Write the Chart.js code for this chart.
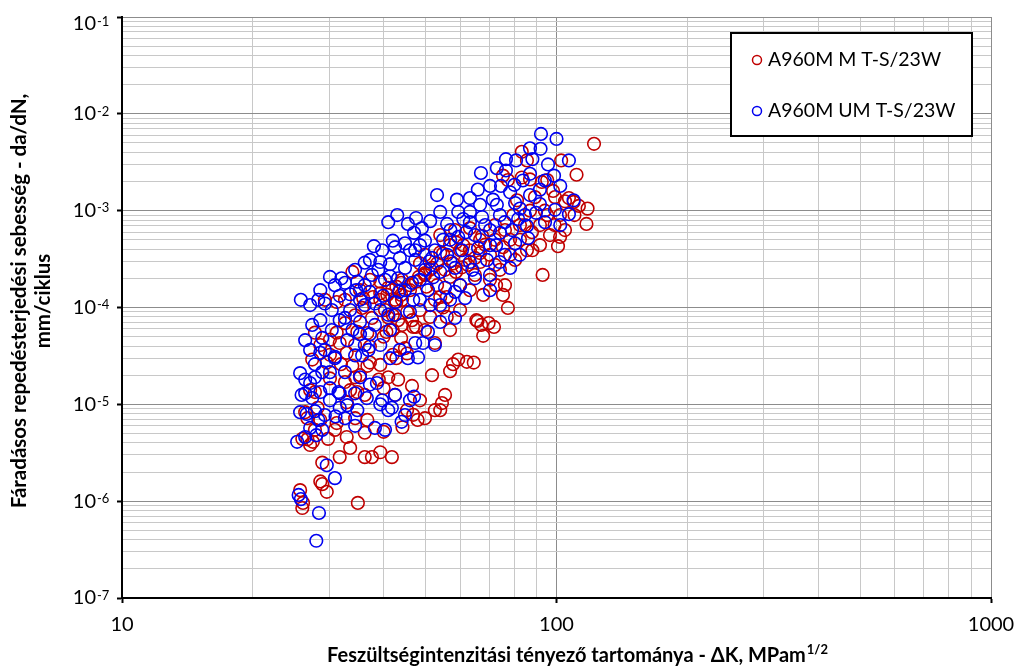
<!DOCTYPE html>
<html>
<head>
<meta charset="utf-8">
<script src="https://cdn.jsdelivr.net/npm/chart.js@4.4.1/dist/chart.umd.min.js"></script>
<style>
  body { margin: 0; background: #fff; }
  canvas { display: block; }
</style>
</head>
<body>
<canvas id="chart" width="1024" height="669"></canvas>
<script>
// A960M M T-S/23W (piros)
const mDK = [122, 83.2, 85.5, 102.5, 111.2, 92.5, 95.2, 99.2, 106.8, 109.5, 112.6, 117.9, 117.2, 101.9, 100.8, 92.9, 88, 85.5,
    77.3, 75.3, 83.2, 86.9, 89.2, 81.1, 72.6, 76.1, 75.3, 77.3, 65.8, 69.8, 71.8, 67.8, 59.4, 57.8, 56.9, 62.2, 64.5,
    55.4, 54.5, 54, 51.7, 52.5, 49.8, 47.9, 45.3, 46.8, 44.2, 41.8, 39.3, 37.6, 36.2, 34.9, 31.7, 29.6, 28.9, 28.6,
    25.7, 26.1, 26, 28.9, 27.1, 27.5, 26.7, 26, 29.8, 32.9, 36.2, 40, 36.7, 34.4, 31.2, 28.6, 26.4, 26.7, 28.2, 32.9,
    34.8, 33.5, 34.4, 35.3, 39, 41, 43.2, 39.3, 37.2, 33.9, 31.9, 29.6, 27.4, 27.1, 27.8, 42.8, 44.8, 42, 45.3, 52.5,
    32.9, 37.2, 31.7, 36.7, 40, 33.9, 39.3, 41, 44.1, 46, 47.5, 49.8, 51.2, 53.1, 54.8, 43.9, 44.1, 42.8, 39.3, 37.8,
    35.9, 35.7, 41, 42, 43.2, 46.5, 46.8, 51.2, 52.5, 54, 54.8, 55.9, 30.1, 31.2, 32.6, 31.2, 29.3, 34.8, 36.7, 40,
    43.9, 47.5, 56.9, 58.7, 60, 54, 51.7, 49.8, 48.2, 43.9, 42.8, 46, 50.2, 53.1, 56.9, 58.7, 60.6, 62.5, 64.9, 66.7,
    63.2, 61.6, 57.8, 55.9, 41.8, 40.8, 39.3, 45.3, 42, 44.1, 40.6, 65.4, 67.1, 63.2, 67.4, 72.2, 78.2, 75.3, 68.5,
    72.2, 66.7, 63.2, 67.8, 79.5, 84.6, 76.1, 82.4, 86.9, 91.6, 95.2, 96.6, 91.6, 80.3, 70.3, 58.4, 54, 49.8, 101.9,
    104.6, 98.2, 27.8,
    48.5, 55.4, 60, 64.9, 70.3, 74.1, 78.2, 82.4, 72.2, 66.7, 61, 87.8, 94, 99, 104.6, 110, 42.5, 40.3, 37.6, 34.4,
    32.6, 35.3, 37.2, 48.5, 49.8, 56.9, 60, 34.4, 30.1, 28.6, 32.6, 30.1, 36.2, 42.5, 46.5, 48.5, 27.8, 30.9, 33.5];
const mDaDN = [4.9e-3, 4.05e-3, 3.3e-3, 3.3e-3, 2.35e-3, 1.98e-3, 2.07e-3, 1.38e-3, 1.35e-3, 1.23e-3, 1.12e-3, 1.05e-3, 7.3e-4,
    5.35e-4, 4.3e-4, 2.17e-4, 3.9e-4, 3.9e-4, 2.07e-3, 2.3e-3, 2.2e-3, 2.1e-3, 1.38e-3, 1.28e-3, 1.7e-4, 1.7e-4, 1.35e-4,
    9.9e-5, 7.25e-5, 6.9e-5, 6.3e-5, 5.1e-5, 2.9e-5, 2.6e-5, 2.2e-5, 2.75e-5, 2.7e-5, 1.25e-5, 1.03e-5, 8.7e-6, 2.0e-5,
    8.7e-6, 7.2e-6, 6.9e-6, 8.7e-6, 7.8e-6, 5.8e-6, 2.85e-6, 3.2e-6, 2.85e-6, 2.85e-6, 9.6e-7, 2.85e-6, 1.25e-6, 1.5e-6,
    1.6e-6, 1.3e-6, 9.6e-7, 8.5e-7, 2.5e-6, 3.8e-6, 4.1e-6, 4.35e-6, 4.4e-6, 4.4e-6, 4.6e-6, 5.1e-6, 5.2e-6, 6.9e-6,
    7.2e-6, 6.4e-6, 6.9e-6, 8.3e-6, 7.2e-6, 9.2e-6, 1.05e-5, 1.34e-5, 1.4e-5, 1.9e-5, 2.0e-5, 1.8e-5, 1.9e-5, 1.8e-5,
    2.55e-5, 2.7e-5, 2.5e-5, 2.6e-5, 2.7e-5, 2.9e-5, 1.4e-5, 1.34e-5, 3.0e-5, 3.8e-5, 3.25e-5, 3.35e-5, 4.3e-5, 3.4e-5,
    3.95e-5, 4.3e-5, 2.5e-5, 1.47e-5, 2.33e-4, 1.85e-4, 1.6e-4, 1.93e-4, 1.7e-4, 1.85e-4, 2.17e-4, 2.45e-4, 2.85e-4,
    3.6e-4, 1.35e-4, 1.2e-4, 1.14e-4, 1.2e-4, 1.28e-4, 1.25e-4, 9.9e-5, 7.9e-5, 8.3e-5, 7.4e-5, 7.4e-5, 6.3e-5, 8e-5,
    1.2e-4, 1.28e-4, 1.0e-4, 8e-5, 4.65e-5, 5.5e-5, 6.9e-5, 1.14e-4, 1.2e-4, 5.6e-5, 5.45e-5, 5e-5, 4.85e-5, 6.3e-5,
    4.4e-4, 4.7e-4, 3.9e-4, 3.7e-4, 2.56e-4, 2.27e-4, 2.07e-4, 1.8e-4, 1.64e-4, 1.51e-4, 1.64e-4, 1.7e-4, 2.07e-4,
    2.33e-4, 2.6e-4, 2.75e-4, 3.25e-4, 3.65e-4, 3.9e-4, 3.1e-4, 2.85e-4, 1.28e-4, 1.51e-4, 1.35e-4, 1.4e-4, 9e-5,
    5.85e-5, 6.6e-5, 5.6e-5, 7.4e-5, 6.6e-5, 6.6e-4, 5.5e-4, 5e-4, 5e-4, 4.2e-4, 4.45e-4, 2.75e-4, 2.95e-4, 1.51e-4,
    1.35e-4, 9e-4, 7.1e-4, 6.3e-4, 5e-4, 1.0e-3, 7.1e-4, 9e-4, 5.6e-4, 4.4e-4, 3.1e-4, 3.5e-4, 6.3e-4, 5.6e-4, 3.5e-4,
    9e-4, 1.25e-3, 1.6e-3, 5.5e-5,
    2.85e-4, 2.45e-4, 1.7e-4, 2.17e-4, 1.93e-4, 2.45e-4, 3.5e-4, 7.1e-4, 7.1e-4, 5.0e-4, 4.4e-4, 6e-4, 1.0e-3, 7.1e-4,
    6.3e-4, 9e-4, 1.2e-4, 9.4e-5, 7.8e-5, 8.3e-5, 1.2e-4, 1.51e-4, 1.93e-4, 9.4e-5, 5.85e-5, 5.85e-5, 9.4e-5, 4.1e-5,
    3.25e-5, 4.1e-5, 1.7e-5, 1.85e-5, 1.25e-5, 1.25e-5, 1.55e-5, 1.1e-5, 5.45e-6, 5.45e-6, 3.55e-6];

// A960M UM T-S/23W (kék)
const umDK = [92.1, 100, 86.9, 80.7, 95.6, 106.8, 76.5, 67, 74.5, 83.7, 53.1, 65.9, 71.4, 80.3, 91.6, 59, 72.9, 99.2, 106.8,
    89.7, 81.6, 74.1, 67.4, 61, 56, 51.2, 47.5, 45.5, 43, 54, 63.2, 79, 85.5, 94.1, 70.3, 64.9, 59.4, 54.8, 49.8, 44.8,
    46, 42.5, 38, 39.3, 41.4, 43.6, 47.3, 51.7, 56, 60.6, 66, 72.6, 80.3, 86, 76.1, 69.2, 63.2, 58.4, 54, 49.8, 36.2,
    34.4, 37.6, 40.3, 43.2, 46.5, 32.6, 30.9, 30.1, 28.6, 31.7, 34.6, 37.2, 39.9, 43.4, 46.8, 50.6, 55.4, 60, 64.9,
    70.3, 78.2, 25.8, 27.1, 29.3, 33.5, 36.2, 39.3, 42.5, 46, 51.2, 56.9, 61.6, 70.3, 32.6, 35.3, 38.2, 41.4, 50.6,
    54, 58.4, 28.6, 30.4, 33, 28.9, 36.2, 43.6, 47.3, 52.5, 30.9, 29.3, 34.4, 41.4, 45.5, 25.7, 26.4, 27.1, 27.8, 28.9,
    30.1, 26.4, 27.4, 28.6, 30.1, 31.5, 33, 34.8, 32.6, 31, 29.3, 27.8, 26.6, 35.3, 37.2, 39.7, 41.8, 44.8, 47, 38.2,
    40.3, 44, 38.6, 31.7, 25.3, 26.4, 28, 29.6, 30.9, 28.9, 25.5, 25.8, 28.4, 28, 28.6, 30.9, 35.7, 36.9, 48, 49.3,
    41, 39.3, 46, 25.9, 31.7, 34.4, 48.5, 52.5, 56.9, 61.9, 68.5, 82.4, 86.9, 78.2, 70.3, 63.2, 44.8, 48.5, 52, 42.5,
    35.3, 38.2, 41, 33.9, 37.2, 32, 34.8, 37.2, 39.7, 42, 47, 27.4, 26.4, 74.1, 66.7, 59.4, 91.9, 76.5, 88, 72.9, 86.9,
    98.7, 102, 109.5,
    41, 49, 57, 63.2, 76, 84.6, 102, 47.3, 51, 57, 64, 74, 82.4, 70.3, 44.8, 48.5, 54, 58.4, 33.5, 36.2, 38.9, 41.4,
    30.4, 28.3, 31.7, 35.3, 39.3, 27.1, 27.8, 32.6, 30.1, 28.3, 27.1, 25.7, 34.4, 36.6, 42.5, 91.6, 80, 94];
const umDaDN = [6.2e-3, 5.5e-3, 4.4e-3, 3.3e-3, 3.0e-3, 3.3e-3, 2.6e-3, 2.45e-3, 1.8e-3, 2.05e-3, 1.45e-3, 1.65e-3, 1.3e-3,
    1.2e-3, 1.17e-3, 1.3e-3, 1.15e-3, 1.02e-3, 9.2e-4, 9.5e-4, 8.2e-4, 9.0e-4, 8.6e-4, 8.2e-4, 7.3e-4, 7.8e-4, 8.4e-4,
    7.3e-4, 9.0e-4, 9.7e-4, 9.7e-4, 6.3e-4, 6.95e-4, 7.6e-4, 6.3e-4, 5.6e-4, 5.35e-4, 5.0e-4, 4.9e-4, 4.6e-4, 3.9e-4,
    4.2e-4, 4.3e-4, 2.95e-4, 2.8e-4, 3.25e-4, 3.1e-4, 3.25e-4, 3.5e-4, 3.9e-4, 4.1e-4, 4.4e-4, 4.6e-4, 5.2e-4, 3.5e-4,
    3.1e-4, 2.95e-4, 2.56e-4, 2.33e-4, 2.45e-4, 2.9e-4, 2.45e-4, 2.17e-4, 1.93e-4, 2.0e-4, 1.8e-4, 1.8e-4, 1.7e-4,
    2.07e-4, 1.51e-4, 1.32e-4, 1.51e-4, 1.45e-4, 1.32e-4, 1.45e-4, 1.2e-4, 1.51e-4, 1.6e-4, 1.7e-4, 2.0e-4, 2.17e-4,
    2.56e-4, 1.2e-4, 1.06e-4, 1.1e-4, 9.4e-5, 1.06e-4, 9.4e-5, 8.4e-5, 9.0e-5, 1.06e-4, 1.2e-4, 1.25e-4, 1.51e-4,
    7.8e-5, 7.1e-5, 6.6e-5, 5.85e-5, 5.6e-5, 7.1e-5, 7.8e-5, 7.4e-5, 5.85e-5, 4.6e-5, 4.85e-5, 4.1e-5, 3.65e-5, 4.3e-5,
    4.1e-5, 3.1e-5, 3.65e-5, 3.2e-5, 3.0e-5, 3.0e-5, 2.1e-5, 1.8e-5, 1.66e-5, 1.9e-5, 2.15e-5, 2.15e-5, 1.3e-5, 1.16e-5,
    1.34e-5, 1.47e-5, 1.34e-5, 9.8e-6, 8.7e-6, 7.2e-6, 7.5e-6, 7.75e-6, 8.5e-6, 7.95e-6, 1.9e-5, 1.6e-5, 1.1e-5, 9.2e-6,
    7.75e-6, 1.2e-5, 5.7e-6, 5.45e-6, 6.6e-6, 1.66e-5, 9.2e-6, 4.1e-6, 4.6e-6, 4.8e-6, 2.35e-6, 1.73e-6, 5.45e-6,
    1.16e-6, 1.05e-6, 7.55e-7, 3.9e-7, 3.4e-5, 3.0e-5, 3.2e-5, 3.65e-5, 3.05e-5, 4.3e-5, 8.7e-6, 1.0e-5, 1.1e-5,
    1.25e-5, 1.3e-5, 1.3e-5, 4.4e-4, 3.9e-4, 5.0e-4, 6.0e-4, 7.1e-4, 1.05e-3, 1.45e-3, 1.55e-3, 1.8e-3, 1.35e-3,
    2.56e-4, 1.93e-4, 2.05e-4, 1.14e-4, 1.2e-4, 1.1e-4, 8.4e-5, 5.85e-5, 5.3e-5, 2.0e-4, 1.85e-4, 3.1e-4, 3.9e-4,
    4.9e-4, 5.9e-4, 6.6e-5, 4.6e-5, 5.9e-4, 1.15e-3, 9.7e-4, 4.35e-3, 3.4e-3, 3.4e-3, 2.75e-3, 2.4e-3, 2.3e-3, 1.8e-3,
    1.28e-3,
    7.6e-4, 6.6e-4, 6.3e-4, 7.6e-4, 7.6e-4, 9e-4, 7.1e-4, 3.9e-4, 3e-4, 3e-4, 2.45e-4, 2.95e-4, 3.5e-4, 4.4e-4, 1.51e-4,
    1.2e-4, 1.06e-4, 1.45e-4, 1.37e-4, 1.7e-4, 2.45e-4, 2.1e-4, 9.4e-5, 1.2e-4, 7.4e-5, 5.3e-5, 4.1e-5, 3.65e-5,
    2.6e-5, 2.15e-5, 1.1e-5, 6.9e-6, 5.7e-6, 8.3e-6, 6.0e-6, 1.16e-5, 1.25e-5, 1.65e-3, 1.85e-3, 2.05e-3];

const seriesNames = ['A960M M T-S/23W', 'A960M UM T-S/23W'];
const seriesColors = ['#c00000', '#0000f0'];

// tengelyek
const xDecades = [10, 100, 1000];
const yExps = [-7, -6, -5, -4, -3, -2, -1];
const xTitle = 'Feszültségintenzitási tényező tartománya - ΔK, MPam';
const xTitleSup = '1/2';
const yTitle = ['Fáradásos repedésterjedési sebesség - da/dN,', 'mm/ciklus'];

const FONT = 'Lato, "Noto Sans", sans-serif';

function logTicks(firstExp, lastExp) {
    const ticks = [];
    for (let e = firstExp; e < lastExp; e++) {
        for (let m = 1; m <= 9; m++) {
            ticks.push({ value: Number((m * Math.pow(10, e)).toPrecision(6)), major: m === 1 });
        }
    }
    ticks.push({ value: Number(Math.pow(10, lastExp).toPrecision(6)), major: true });
    return ticks;
}

const gridColor = c => (c.tick && c.tick.major) ? '#8c8c8c' : '#c8c8c8';
const tickColor = c => (c.tick && c.tick.major) ? '#000' : 'rgba(0,0,0,0)';

const textPlugin = {
    id: 'texts',
    afterDraw(chart) {
        const ctx = chart.ctx;
        const xs = chart.scales.x, ys = chart.scales.y;
        ctx.save();
        ctx.fillStyle = '#000';

        // y feliratok 10^n
        yExps.forEach(e => {
            const py = ys.getPixelForValue(Math.pow(10, e));
            const cy = Math.max(py, ys.top + 7);
            ctx.font = '20px ' + FONT;
            ctx.textAlign = 'right';
            ctx.textBaseline = 'middle';
            ctx.fillText('10', 96, cy);
            ctx.font = '13px ' + FONT;
            ctx.textAlign = 'left';
            ctx.textBaseline = 'top';
            ctx.fillText('-' + Math.abs(e), 97, cy - 9);
        });

        // x feliratok
        ctx.font = '20px ' + FONT;
        ctx.textAlign = 'center';
        ctx.textBaseline = 'middle';
        xDecades.forEach(v => {
            ctx.fillText(String(v), xs.getPixelForValue(v), 625);
        });

        // x cím
        ctx.font = 'bold 20px ' + FONT;
        const w1 = ctx.measureText(xTitle).width;
        ctx.font = 'bold 13px ' + FONT;
        const w2 = ctx.measureText(xTitleSup).width;
        const x0 = 577 - (w1 + w2) / 2;
        ctx.textAlign = 'left';
        ctx.textBaseline = 'alphabetic';
        ctx.font = 'bold 20px ' + FONT;
        ctx.fillText(xTitle, x0, 662);
        ctx.font = 'bold 13px ' + FONT;
        ctx.fillText(xTitleSup, x0 + w1 + 1, 654);

        // y cím
        ctx.save();
        ctx.translate(0, 301);
        ctx.rotate(-Math.PI / 2);
        ctx.font = 'bold 20.5px ' + FONT;
        ctx.textAlign = 'center';
        ctx.textBaseline = 'middle';
        ctx.fillText(yTitle[0], 0, 19);
        ctx.fillText(yTitle[1], 0, 43);
        ctx.restore();

        // jelmagyarázat
        ctx.fillStyle = '#fff';
        ctx.fillRect(731, 33, 241, 103);
        ctx.strokeStyle = '#000';
        ctx.lineWidth = 2;
        ctx.strokeRect(731, 33, 241, 103);
        ctx.font = '19.5px ' + FONT;
        ctx.textAlign = 'left';
        ctx.textBaseline = 'middle';
        seriesNames.forEach((name, i) => {
            const cy = 60 + i * 51;
            ctx.beginPath();
            ctx.arc(757, cy, 4.5, 0, Math.PI * 2);
            ctx.strokeStyle = seriesColors[i];
            ctx.lineWidth = 1.5;
            ctx.stroke();
            ctx.fillStyle = '#000';
            ctx.fillText(name, 768, cy);
        });
        ctx.restore();
    }
};

const toPoints = (xs, ys) => xs.map((x, i) => ({ x: x, y: ys[i] }));

new Chart(document.getElementById('chart'), {
    type: 'scatter',
    data: {
        datasets: [
            {
                label: seriesNames[0],
                data: toPoints(mDK, mDaDN),
                borderColor: seriesColors[0],
                backgroundColor: 'rgba(0,0,0,0)',
                pointRadius: 6.3,
                borderWidth: 1.6,
                order: 1
            },
            {
                label: seriesNames[1],
                data: toPoints(umDK, umDaDN),
                borderColor: seriesColors[1],
                backgroundColor: 'rgba(0,0,0,0)',
                pointRadius: 6.3,
                borderWidth: 1.6,
                order: 0
            }
        ]
    },
    options: {
        responsive: false,
        animation: false,
        events: [],
        layout: { padding: { top: 17, right: 33, left: 0, bottom: 0 } },
        plugins: { legend: { display: false }, tooltip: { enabled: false } },
        scales: {
            x: {
                type: 'logarithmic',
                min: 10,
                max: 1000,
                afterBuildTicks: s => { s.ticks = logTicks(1, 3); },
                afterFit: s => { s.height = 71; },
                ticks: { display: false },
                grid: { color: gridColor, tickColor: tickColor, tickLength: 5, tickWidth: 2 },
                border: { color: '#000', width: 2 }
            },
            y: {
                type: 'logarithmic',
                min: 1e-7,
                max: 0.1,
                afterBuildTicks: s => { s.ticks = logTicks(-7, -1); },
                afterFit: s => { s.width = 122; },
                ticks: { display: false },
                grid: { color: gridColor, tickColor: tickColor, tickLength: 5, tickWidth: 2 },
                border: { color: '#000', width: 2 }
            }
        }
    },
    plugins: [textPlugin]
});
</script>
</body>
</html>
